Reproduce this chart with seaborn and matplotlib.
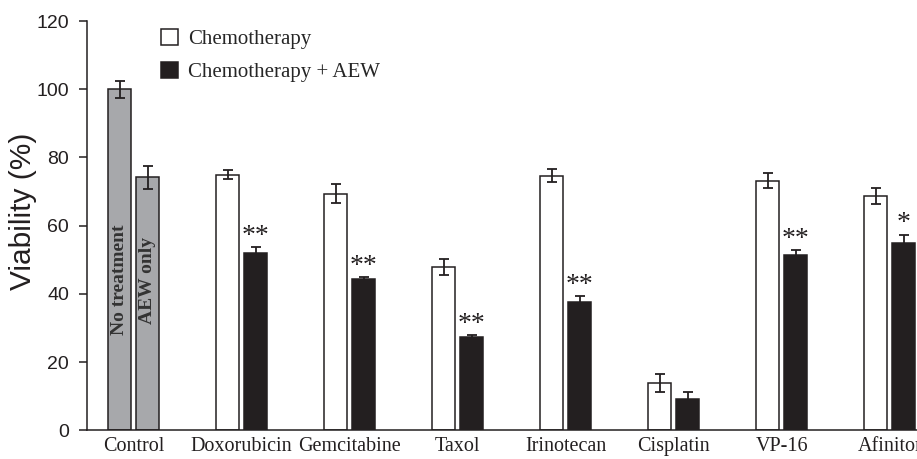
import numpy as np
import pandas as pd
import matplotlib
matplotlib.use("Agg")
import matplotlib.pyplot as plt
import seaborn as sns

# ---- data ----
groups = ["Control", "Doxorubicin", "Gemcitabine", "Taxol", "Irinotecan",
          "Cisplatin", "VP-16", "Afinitor"]
chemo = [100.0, 75.0, 69.4, 47.9, 74.7, 13.9, 73.1, 68.6]
chemo_sd = [2.5, 1.4, 2.9, 2.3, 1.8, 2.6, 2.2, 2.3]
chemo_aew = [74.2, 52.1, 44.4, 27.4, 37.7, 9.2, 51.3, 54.8]
chemo_aew_sd = [3.4, 1.5, 0.6, 0.4, 1.6, 2.0, 1.6, 2.6]
sig_labels = ["", "**", "**", "**", "**", "", "**", "*"]
series_names = ["Chemotherapy", "Chemotherapy + AEW"]
control_labels = ["No treatment", "AEW only"]
yticks = [0, 20, 40, 60, 80, 100, 120]

df = pd.DataFrame({
    "group": groups * 2,
    "condition": [series_names[0]] * len(groups) + [series_names[1]] * len(groups),
    "value": chemo + chemo_aew,
})
sds = [chemo_sd, chemo_aew_sd]

sns.set_style("ticks")
plt.rcParams["font.family"] = ["Liberation Sans", "DejaVu Sans"]

dark = "#231f20"
gray = "#a7a8ab"

fig = plt.figure(figsize=(9.17, 4.59), dpi=100)
ax = fig.add_axes([0.0952, 0.0625, 0.9048, 0.8917])

sns.barplot(data=df, x="group", y="value", hue="condition", order=groups,
            hue_order=series_names, palette=["white", dark], edgecolor=dark,
            linewidth=1.1, width=0.522, gap=0.19, errorbar=None, ax=ax,
            saturation=1)

bar_containers = list(ax.containers)[:2]
for hi, cont in enumerate(bar_containers):
    for j, bar in enumerate(cont.patches):
        x = bar.get_x() + bar.get_width() / 2
        h = bar.get_height()
        if j == 0:
            bar.set_facecolor(gray)
            ax.text(x, 44, control_labels[hi], rotation=90, ha="center",
                    va="center", family="Liberation Serif", weight="bold",
                    fontsize=14, color="#333333")
        ax.errorbar(x, h, yerr=sds[hi][j], color=dark, capsize=3.3,
                    elinewidth=1.3, capthick=1.3, fmt="none", zorder=5)
        if hi == 1 and sig_labels[j]:
            ax.text(x, h + sds[hi][j] + 1.2, sig_labels[j],
                    ha="center", va="baseline", fontsize=20,
                    family="Liberation Serif", color=dark)

ax.set_ylim(0, 120)
ax.set_yticks(yticks)
ax.set_xlim(-0.43, 7.253)
ax.set_xlabel("")
ax.set_ylabel("Viability (%)", fontsize=21.5, color=dark)
ax.yaxis.set_label_coords(-0.061, 0.535)
ax.tick_params(axis="y", labelsize=14, length=6, width=1.1, pad=7, colors=dark)
ax.tick_params(axis="x", length=0, labelsize=14.5, pad=4.5, colors=dark)
for lab in ax.get_xticklabels():
    lab.set_family("Liberation Serif")
sns.despine(ax=ax)
for s in ["left", "bottom"]:
    ax.spines[s].set_linewidth(1.1)
    ax.spines[s].set_color(dark)

sns.move_legend(ax, loc="upper left", bbox_to_anchor=(0.1756, 0.937),
                bbox_transform=fig.transFigure, frameon=False, title=None,
                handlelength=0.8, handleheight=0.8,
                handletextpad=0.5, labelspacing=0.6, borderpad=0,
                borderaxespad=0, prop={"family": "Liberation Serif", "size": 15})

fig.savefig("out.png", dpi=100)
